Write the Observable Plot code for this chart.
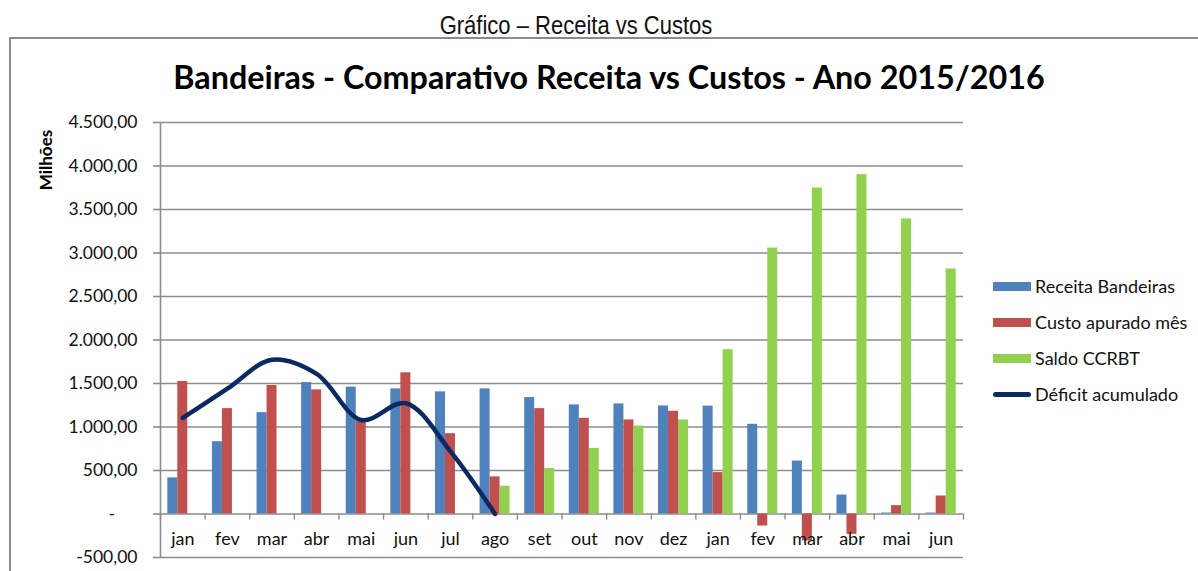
<!DOCTYPE html>
<html><head><meta charset="utf-8">
<script src="https://cdn.jsdelivr.net/npm/d3@7"></script>
<script src="https://cdn.jsdelivr.net/npm/@observablehq/plot@0.6"></script>
<style>
body{margin:0;width:1198px;height:571px;overflow:hidden;background:#fff;position:relative;font-family:Lato,"Open Sans",sans-serif;color:#111;}
#caption{position:absolute;left:0;width:1152px;top:10px;text-align:center;font-family:"Liberation Sans Narrow","Arial Narrow","Liberation Sans",sans-serif;font-size:25px;line-height:30px;color:#111;transform:scaleX(0.88);transform-origin:576px 0;}
#box{position:absolute;left:9px;top:37px;width:1300px;height:600px;border:2px solid #8a8a8a;box-sizing:border-box;}
#title{position:absolute;left:0;width:1218px;top:57px;text-align:center;font-weight:bold;font-size:32.3px;line-height:40px;color:#000;}
#chart{position:absolute;left:0;top:0;}
#ylabel{position:absolute;left:45px;top:160px;transform:translate(-50%,-50%) rotate(-90deg);font-weight:bold;font-size:17px;white-space:nowrap;color:#000;}
#legend{position:absolute;left:993px;top:268px;}
.row{display:flex;align-items:center;height:36px;font-size:18px;white-space:nowrap;color:#111;}
.sw{width:38px;height:9px;margin-right:4px;flex:none;}
.ln{width:38px;height:5px;border-radius:3px;margin-right:4px;flex:none;}
</style></head>
<body>
<div id="caption">Gráfico – Receita vs Custos</div>
<div id="box"></div>
<div id="chart"></div>
<div id="title">Bandeiras - Comparativo Receita vs Custos - Ano 2015/2016</div>
<div id="ylabel">Milhões</div>
<div id="legend"></div>
<script>
const months = ["jan","fev","mar","abr","mai","jun","jul","ago","set","out","nov","dez","jan","fev","mar","abr","mai","jun"];
const receita = [415, 831, 1165, 1511, 1458, 1438, 1404, 1438, 1338, 1254, 1265, 1242, 1240, 1031, 609, 218, 11, 11];
const custo   = [1523, 1211, 1477, 1427, 1073, 1623, 923, 427, 1211, 1100, 1081, 1181, 476, -138, -310, -234, 96, 207];
const saldo   = [null, null, null, null, null, null, null, 319, 523, 754, 1011, 1081, 1888, 3057, 3747, 3900, 3391, 2816];
const deficit = [1104, 1440, 1773, 1611, 1081, 1273, 720, 0, null, null, null, null, null, null, null, null, null, null];
const yTicks  = [-500, 0, 500, 1000, 1500, 2000, 2500, 3000, 3500, 4000, 4500];
const seriesNames = ["Receita Bandeiras","Custo apurado mês","Saldo CCRBT","Déficit acumulado"];
const colors = ["#4f81bd","#c0504d","#92d050","#0b2a63"];

const W = 1198, H = 571, mL = 160, mR = 235, mT = 122, mB = 14;
const idx = months.map((_, i) => i);
const step = (W - mL - mR) / months.length;
const barW = 10;
const inset = (step - barW) / 2;
const rows = vals => idx.map(i => ({i, v: vals[i]})).filter(d => d.v != null);
const fmt = d3.formatLocale({decimal: ",", thousands: ".", grouping: [3], currency: ["", ""], minus: "-"}).format(",.2f");
const grid = "#8c8c8c";

const chart = Plot.plot({
  width: W, height: H,
  marginLeft: mL, marginRight: mR, marginTop: mT, marginBottom: mB,
  style: {fontFamily: "Lato, 'Open Sans', sans-serif", fontSize: "17px", background: "transparent", color: "#111"},
  x: {type: "band", domain: idx, padding: 0, round: false, axis: null},
  y: {domain: [-500, 4500]},
  marks: [
    Plot.gridY(yTicks, {stroke: grid, strokeOpacity: 1, strokeWidth: 1.6}),
    Plot.axisY(yTicks, {tickSize: 7, tickPadding: 16, stroke: grid, fill: "#111", strokeWidth: 1.6, label: null, fontSize: 17.5,
      tickFormat: d => d === 0 ? "-\u00a0\u00a0\u00a0\u00a0\u00a0" : fmt(d)}),
    Plot.ruleX([0], {x: d => d, y1: () => -500, y2: () => 4500, dx: -step / 2, stroke: grid, strokeWidth: 1.6}),
    Plot.barY(rows(receita), {x: "i", y: "v", fill: colors[0], insetLeft: inset, insetRight: inset, dx: -barW}),
    Plot.barY(rows(custo), {x: "i", y: "v", fill: colors[1], insetLeft: inset, insetRight: inset}),
    Plot.barY(rows(saldo), {x: "i", y: "v", fill: colors[2], insetLeft: inset, insetRight: inset, dx: barW}),
    Plot.ruleX(idx, {x: d => d, y1: () => 0, y2: () => -70, dx: -step / 2, stroke: grid, strokeWidth: 1.4}),
    Plot.ruleX([idx.length - 1], {x: d => d, y1: () => 0, y2: () => -70, dx: step / 2, stroke: grid, strokeWidth: 1.4}),
    Plot.text(idx, {x: d => d, y: () => 0, text: d => months[d], dy: 25, fontSize: 18, fill: "#111"}),
    Plot.line(rows(deficit), {x: "i", y: "v", stroke: colors[3], strokeWidth: 4.5, curve: "catmull-rom", strokeLinecap: "round"})
  ]
});
document.getElementById("chart").appendChild(chart);

const leg = document.getElementById("legend");
seriesNames.forEach((name, k) => {
  const row = document.createElement("div");
  row.className = "row";
  const sw = document.createElement("div");
  sw.className = k < 3 ? "sw" : "ln";
  sw.style.background = colors[k];
  row.appendChild(sw);
  const t = document.createElement("span");
  t.textContent = name;
  row.appendChild(t);
  leg.appendChild(row);
});
</script>
</body></html>
